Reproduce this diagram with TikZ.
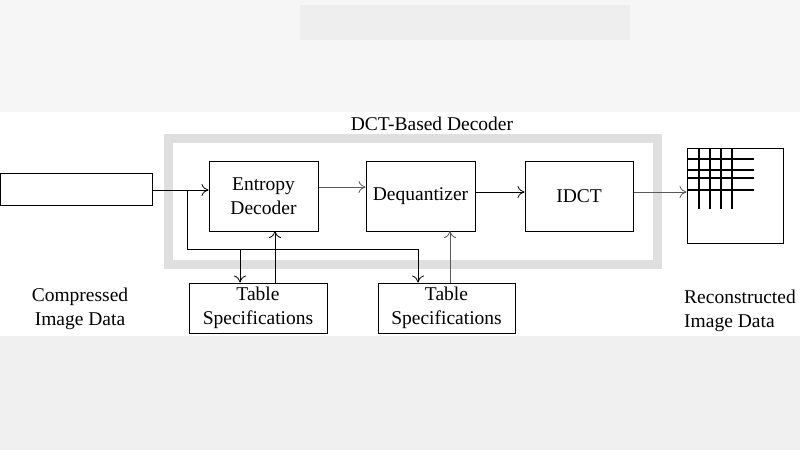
\documentclass[tikz,border=0pt]{standalone}
\usepackage{fontspec}
\setmainfont{Liberation Serif}
\usetikzlibrary{arrows.meta}
\begin{document}
\begin{tikzpicture}[x=1pt,y=-1pt,
  blk/.style={draw,line width=1pt,inner sep=0pt,align=center,font=\fontsize{19.5}{24}\selectfont},
  arr/.style={draw,line width=0.8pt,-{To[length=7pt,width=12pt]}},
  lbl/.style={font=\fontsize{19.5}{24}\selectfont,align=center}]
\useasboundingbox (0,0) rectangle (800,450);
\fill[white] (0,0) rectangle (800,450);
\fill[gray!7] (0,0) rectangle (800,112);
\fill[gray!12] (0,336) rectangle (800,450);
\fill[gray!13] (300,5) rectangle (630,40);
\draw[gray!25,line width=9pt] (168.5,138.5) rectangle (657.5,264.5);
\node[blk,minimum width=152pt,minimum height=32pt] (in) at (76,189) {};
\node[blk,minimum width=109pt,minimum height=70pt] (ent) at (263.5,196) {Entropy\\Decoder};
\node[blk,minimum width=109pt,minimum height=70pt] (deq) at (420.5,196) {Dequantizer};
\node[blk,minimum width=108pt,minimum height=70pt] (idct) at (579,196) {IDCT};
\node[blk,minimum width=138pt,minimum height=50pt] (t1) at (258,308) {Table\\Specifications};
\node[blk,minimum width=137pt,minimum height=50pt] (t2) at (446.5,308) {Table\\Specifications};
\node[blk,minimum width=96pt,minimum height=95pt] (img) at (735,195.5) {};
\foreach \x in {699,710,721,732} \draw[line width=1.1pt] (\x,148) -- (\x,209);
\foreach \y in {159,170,178,190} \draw[line width=1.1pt] (687,\y) -- (754,\y);
\node[lbl] (title) at (432,124) {DCT-Based Decoder};
\node[lbl] (cid) at (80,309) {Compressed\\Image Data};
\node[lbl,align=left] (rid) at (740,311) {Reconstructed\\Image Data};
\coordinate (b1) at (187,190);
\coordinate (b2) at (187,249);
\coordinate (b3) at (240,249);
\coordinate (b4) at (418,249);
\draw[arr] (in.east |- b1) -- (ent.west |- b1);
\draw[line width=0.8pt] (b1) -- (b2) -- (b4);
\draw[arr] (b3) -- (b3 |- t1.north);
\draw[arr] (b4) -- (b4 |- t2.north);
\draw[arr] (275,283) -- (275,231);
\draw[arr,gray!70!black] (450,283) -- (450,231);
\draw[arr,gray!70!black] (ent.east |- 0,187) -- (deq.west |- 0,187);
\draw[arr] (deq.east |- 0,192) -- (idct.west |- 0,192);
\draw[arr,gray!70!black] (idct.east |- 0,192) -- (img.west |- 0,192);
\end{tikzpicture}
\end{document}
